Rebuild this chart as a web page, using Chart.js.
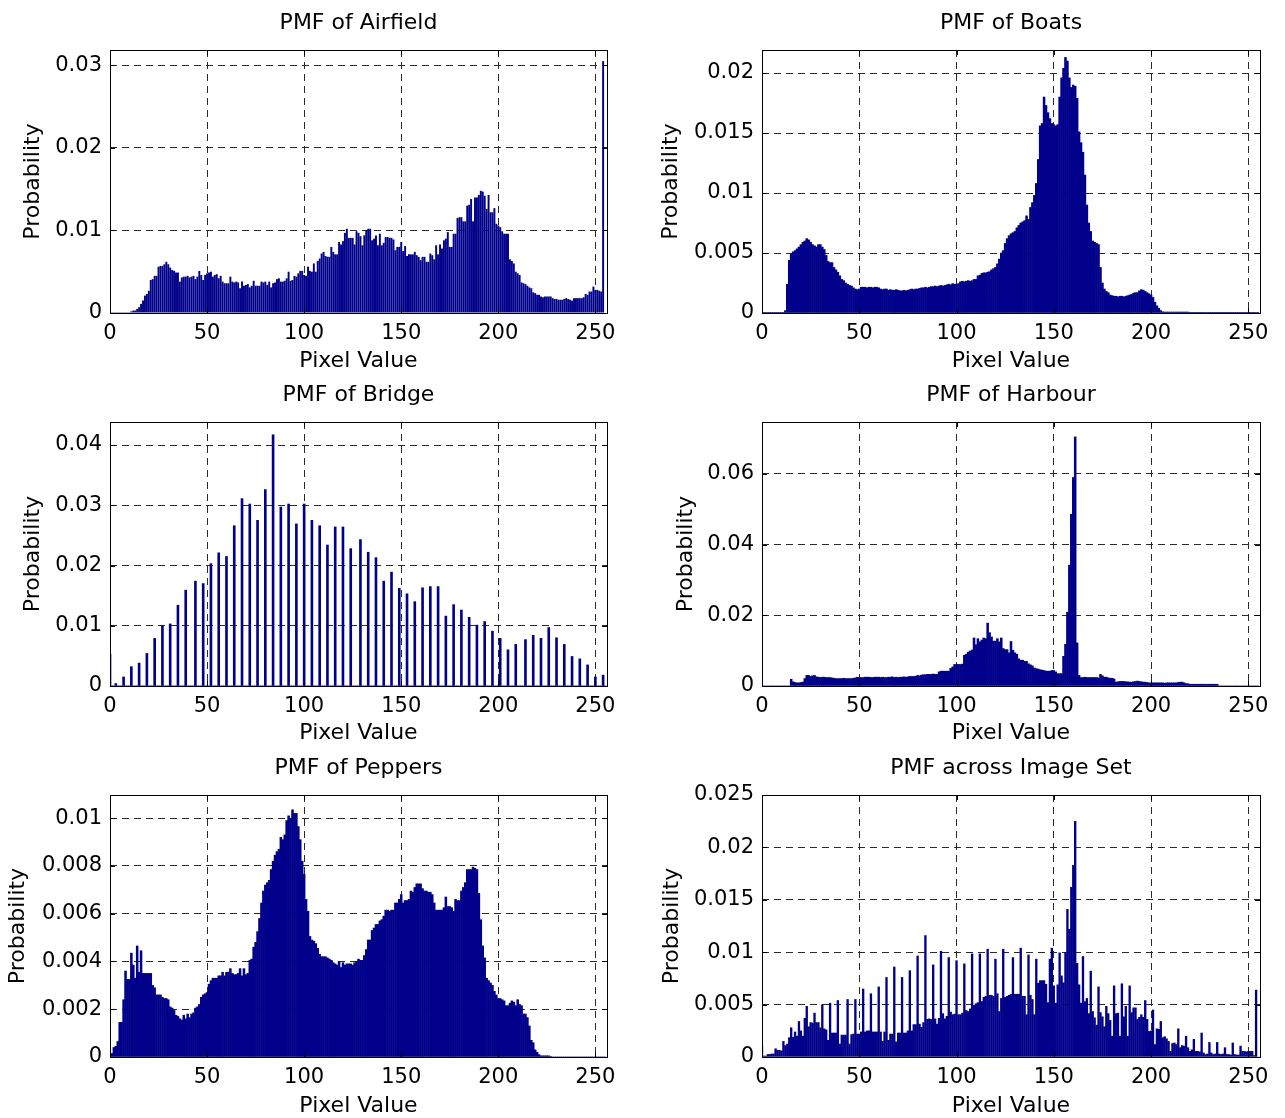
<!DOCTYPE html>
<html><head><meta charset="utf-8">
<script src="https://cdn.jsdelivr.net/npm/chart.js@4.4.1/dist/chart.umd.min.js"></script>
<style>
html,body{margin:0;padding:0;background:#fff;width:1285px;height:1118px;overflow:hidden}
canvas{position:absolute}
</style></head><body>
<canvas id="c0" width="640" height="373" style="left:0;top:0"></canvas>
<canvas id="c1" width="645" height="373" style="left:640px;top:0"></canvas>
<canvas id="c2" width="640" height="373" style="left:0;top:372px"></canvas>
<canvas id="c3" width="645" height="373" style="left:640px;top:372px"></canvas>
<canvas id="c4" width="640" height="373" style="left:0;top:745px"></canvas>
<canvas id="c5" width="645" height="373" style="left:640px;top:745px"></canvas>
<script>
// Pixel values 0..255 (categories)
const pixelValues = Array.from({length: 256}, (_, i) => i);
const xTicks = [0, 50, 100, 150, 200, 250];

// Probabilities in units of 1e-3 (per mille), one entry per pixel value
const airfield = [
0.1,0.1,0.1,0.1,0.1,0.1,0.1,0.1,0.1,0.1,
0.1,0.2,0.3,0.3,0.5,0.7,1.1,1.5,2.1,2.3,
2.7,4.0,4.1,4.5,4.5,5.6,5.7,5.7,5.9,6.2,
5.9,5.5,5.2,5.1,4.9,4.9,3.8,4.3,4.4,4.4,
4.5,4.3,4.4,4.5,4.1,4.4,5.1,4.6,4.0,4.6,
4.8,4.9,5.0,4.4,4.6,4.7,4.2,4.5,3.8,3.6,
3.6,3.6,4.4,3.8,3.7,3.8,3.7,3.0,3.8,3.3,
3.4,3.5,3.1,3.3,3.9,3.3,3.3,3.3,3.8,3.7,
3.8,3.4,3.8,3.1,3.6,3.7,4.1,4.2,3.8,3.8,
3.9,4.2,5.0,3.9,4.0,4.5,4.4,4.8,5.1,5.1,
4.6,4.5,5.6,5.1,5.0,6.0,5.0,6.3,6.6,7.2,
7.4,6.9,6.8,6.8,8.0,7.4,7.1,7.1,8.6,8.3,
8.7,9.7,10.2,9.1,9.1,9.1,8.3,9.9,9.7,9.3,
8.2,9.4,10.0,10.2,10.2,8.8,9.0,9.4,8.2,9.6,
8.2,8.5,9.2,9.2,9.1,9.1,8.9,7.6,8.0,8.0,
8.6,7.5,8.1,6.9,7.1,7.1,7.1,7.4,7.0,6.8,
6.4,6.8,6.8,6.2,6.2,7.2,7.0,6.5,8.2,7.1,
8.3,7.8,8.8,9.0,9.8,8.0,8.0,9.6,9.6,11.5,
11.6,11.6,11.1,11.1,13.0,13.1,13.8,11.1,14.0,14.0,
14.3,14.8,14.7,14.2,12.6,14.3,12.2,12.2,12.7,10.8,
10.6,10.4,9.9,9.6,9.6,9.6,6.5,6.3,6.0,5.0,
4.8,4.6,3.7,3.6,3.5,3.3,3.1,3.0,2.5,2.4,
2.2,2.2,2.0,1.9,2.0,2.0,2.0,2.0,1.8,1.7,
1.7,1.6,1.6,1.6,1.7,1.8,1.7,1.6,1.5,1.8,
1.8,1.8,1.8,1.8,1.9,2.3,2.2,2.6,2.6,3.2,
2.8,2.8,2.7,2.6,30.5,0
];

const boats = [
0.05,0.05,0.05,0.05,0.05,0.05,0.05,0.05,0.05,0.05,
0.05,0.05,0.2,2.4,4.4,4.9,5.1,5.2,5.35,5.5,
5.7,5.9,6.0,6.2,6.1,5.9,5.7,5.6,5.5,5.7,
5.7,5.5,5.3,4.8,4.3,4.2,4.2,3.8,3.6,3.4,
3.1,2.8,2.7,2.5,2.4,2.3,2.25,2.1,2.0,1.95,
2.0,2.15,2.15,2.15,2.1,2.15,2.15,2.1,2.15,2.15,
2.1,2.0,1.95,2.0,2.0,1.9,1.95,1.9,1.9,1.95,
1.9,1.85,1.85,1.9,1.85,1.9,1.95,2.0,1.95,2.0,
2.0,2.05,2.1,2.1,2.15,2.1,2.15,2.2,2.2,2.25,
2.2,2.25,2.3,2.25,2.3,2.35,2.4,2.35,2.45,2.4,
2.4,2.45,2.6,2.65,2.6,2.65,2.7,2.65,2.7,2.8,
2.8,3.1,3.15,3.3,3.35,3.35,3.4,3.45,3.6,3.7,
3.8,4.1,4.5,5.0,5.2,5.8,6.2,6.45,6.6,6.7,
6.8,7.1,7.3,7.5,7.6,7.7,8.1,7.8,8.8,9.2,
9.8,10.8,12.8,15.6,15.8,18.0,17.3,16.7,16.2,15.8,
15.7,15.6,15.7,18.0,19.6,20.4,21.3,21.0,19.6,18.8,
19.0,18.9,17.9,15.1,14.2,13.4,11.5,9.0,7.5,6.8,
6.0,5.9,5.8,5.7,3.8,2.5,2.0,1.8,1.7,1.5,
1.45,1.4,1.4,1.35,1.4,1.4,1.35,1.4,1.45,1.5,
1.55,1.65,1.7,1.7,1.85,1.95,1.9,1.8,1.7,1.6,
1.5,1.3,0.9,0.6,0.4,0.2,0.1,0.08,0.08,0.08,
0.08,0.08,0.08,0.08,0.08,0.08,0.08,0.08,0.08,0.08,
0.03,0.03,0.03,0.03,0.03,0.03,0.03,0.03,0.03,0.03,
0.03,0.03,0.03,0.03,0.03,0.03,0.03,0.03,0.03,0.03,
0.03,0.03,0.03,0.03,0.03,0.03,0.03,0.03,0.03,0.03,
0.03,0.03,0.03,0.03,0.03,0.03
];

const bridge = [
5.3,0,0,0.4,0,0,0,1.5,0,0,
0,3.2,0,0,0,3.8,0,0,0,5.4,
0,0,0,7.9,0,0,0,10.0,0,0,
0,10.3,0,0,0,13.4,0,0,0,15.9,
0,0,0,0,17.4,0,0,0,17.0,0,
0,0,20.3,0,0,0,22.1,0,0,0,
21.5,0,0,0,26.6,0,0,0,31.1,0,
0,0,30.2,0,0,0,27.5,0,0,0,
32.6,0,0,0,41.7,0,0,0,29.7,0,
0,0,30.2,0,0,0,26.9,0,0,0,
30.2,0,0,0,27.5,0,0,0,26.6,0,
0,0,23.4,0,0,0,26.4,0,0,0,
26.4,0,0,0,22.8,0,0,0,0,24.3,
0,0,0,22.2,0,0,0,21.3,0,0,
0,17.4,0,0,0,18.9,0,0,0,16.2,
0,0,0,15.3,0,0,0,14.0,0,0,
0,16.3,0,0,0,16.5,0,0,0,16.5,
0,0,0,11.6,0,0,0,13.5,0,0,
0,12.6,0,0,0,11.4,0,0,0,10.1,
0,0,0,10.7,0,0,0,9.1,0,0,
0,7.9,0,0,0,6.0,0,0,0,6.9,
0,0,0,0,7.7,0,0,0,8.4,0,
0,0,7.9,0,0,0,9.7,0,0,0,
8.0,0,0,0,6.9,0,0,0,4.9,0,
0,0,4.5,0,0,0,3.5,0,0,0,
1.5,0,0,0,1.8,0
];

const harbour = [
0,0,0,0,0,0,0,0,0,0,
0,0,0,0,0,1.9,1.2,1.0,0.9,0.9,
1.0,1.1,2.1,3.0,3.0,2.7,2.9,3.0,2.6,2.5,
2.4,2.5,2.5,2.4,2.4,2.4,2.3,2.2,2.1,2.1,
2.1,2.1,2.2,2.1,2.1,2.1,2.1,2.2,2.3,2.5,
2.4,2.4,2.4,2.5,2.5,2.5,2.4,2.4,2.5,2.5,
2.5,2.4,2.5,2.4,2.4,2.5,2.5,2.6,2.4,2.5,
2.4,2.5,2.5,2.6,2.5,2.6,2.7,2.7,2.7,2.8,
3.0,2.9,3.1,3.2,3.2,3.3,3.3,3.3,3.4,3.3,
3.3,4.0,4.2,4.2,4.2,4.2,4.2,5.0,5.4,6.1,
6.1,6.1,6.1,6.2,8.7,9.0,9.6,9.9,10.2,13.6,
11.7,13.4,12.5,13.0,13.6,13.4,17.8,15.1,13.9,12.7,
12.7,13.4,12.5,13.6,10.6,10.3,10.3,9.4,12.6,10.1,
9.4,9.0,7.7,7.3,7.3,7.0,7.0,6.3,6.0,5.7,
5.1,4.9,4.8,4.6,4.5,4.4,4.2,4.2,4.2,4.4,
4.4,4.0,3.5,3.5,3.5,8.4,11.8,20.9,34.2,48.6,
59.0,70.5,12.2,3.0,2.4,2.4,2.5,2.4,2.4,2.4,
2.4,2.4,2.4,2.3,3.3,2.9,2.5,2.5,2.3,2.2,
2.2,2.0,1.1,1.2,1.3,1.3,1.3,1.2,1.2,1.1,
1.1,1.2,1.3,1.4,1.3,1.2,1.1,1.1,1.0,0.9,
0.85,0.9,0.9,0.9,0.9,0.9,0.9,0.8,0.9,0.9,
0.9,0.9,0.9,0.9,1.0,1.1,1.1,0.9,0.7,0.65,
0.5,0.5,0.5,0.5,0.5,0.5,0.5,0.5,0.5,0.5,
0.5,0.5,0.5,0.5,0.5,0,0,0,0,0,
0,0,0,0,0,0,0,0,0,0,
0,0,0,0,0,0
];

const peppers = [
0.1,0.15,0.4,0.45,0.65,1.45,1.45,2.4,3.6,3.25,
3.25,4.35,3.85,3.3,4.65,3.55,4.45,3.5,3.5,3.5,
3.5,3.5,3.0,2.9,2.6,2.6,2.6,2.5,2.45,2.45,
2.4,2.1,2.05,1.95,1.75,1.7,1.6,1.55,1.75,1.6,
1.8,1.65,1.8,1.85,2.05,2.1,2.2,2.5,2.6,2.65,
2.7,3.05,3.2,3.3,3.3,3.3,3.4,3.4,3.55,3.4,
3.55,3.55,3.7,3.5,3.45,3.45,3.5,3.7,3.4,3.7,
3.45,3.5,4.05,4.1,4.6,4.8,5.25,5.8,6.45,6.95,
7.2,7.3,7.4,7.85,8.2,8.45,8.6,8.7,9.2,9.1,
9.3,9.9,10.1,10.0,10.35,10.2,10.2,9.65,9.1,8.2,
7.65,6.6,6.1,5.05,4.9,4.85,4.75,4.55,4.3,4.2,
4.2,4.2,4.15,4.1,4.05,3.95,3.9,3.85,4.0,3.75,
3.95,3.85,3.9,3.9,3.9,3.85,3.95,4.0,4.1,4.05,
4.05,4.25,4.5,4.9,4.9,5.3,5.4,5.55,5.55,5.7,
5.75,5.9,6.15,6.15,6.1,6.15,6.15,6.45,6.45,6.6,
6.8,6.45,6.55,6.55,6.6,6.95,6.9,7.1,7.25,7.25,
7.25,7.05,6.95,6.95,6.9,6.9,6.8,6.45,6.15,6.15,
6.15,6.15,6.25,6.7,6.3,6.3,6.25,6.1,6.6,6.55,
6.55,6.95,7.1,7.3,7.85,7.85,7.85,7.95,7.9,7.85,
6.85,5.75,4.65,4.15,3.3,3.2,3.1,3.0,2.75,2.6,
2.45,2.45,2.4,2.35,2.15,2.15,2.25,2.35,2.3,2.15,
2.4,2.2,2.15,1.8,1.8,1.65,1.3,0.7,0.6,0.3,
0.2,0.1,0.05,0.05,0.05,0.05,0.05,0.02,0,0,
0,0,0,0,0,0,0,0,0,0,
0,0,0,0,0,0,0,0,0,0,
0,0,0,0,0,0
];

const acrossSet = [
1.05,0.1,0.1,0.25,0.25,0.3,0.3,0.8,0.65,0.65,
0.6,1.5,1.1,1.25,1.85,2.8,1.9,2.4,2.0,3.4,
2.5,2.0,3.7,4.85,2.9,3.3,3.25,4.2,3.3,3.3,
2.8,5.0,2.7,2.6,1.6,5.15,2.3,2.3,2.3,5.4,
1.25,2.1,2.1,2.1,5.5,1.25,2.15,2.2,5.5,2.2,
2.2,2.4,6.5,2.4,2.5,2.5,6.05,2.4,2.4,2.4,
6.7,2.4,1.5,2.4,7.6,1.6,2.2,2.2,8.6,1.45,
2.3,2.3,7.6,2.3,2.3,2.5,8.25,2.5,3.1,3.1,
9.65,3.15,2.85,3.3,11.6,3.6,3.65,3.6,8.8,3.65,
3.15,3.7,10.1,4.15,3.65,3.9,9.5,4.3,4.05,4.1,
9.2,4.05,4.05,4.2,8.9,4.45,4.35,4.6,9.85,4.95,
5.1,5.2,9.85,5.3,5.7,5.8,10.3,5.9,5.9,5.8,
9.35,6.05,4.35,5.6,10.3,5.7,5.8,5.9,6.0,9.5,
6.0,6.0,6.0,10.4,5.8,5.8,4.05,9.75,5.9,5.5,
4.05,9.35,7.05,7.3,7.3,7.3,6.95,5.2,9.35,10.4,
6.8,5.15,6.9,9.95,7.75,7.1,10.0,14.1,12.2,16.2,
18.3,22.5,8.95,6.9,5.15,9.6,5.3,5.6,4.15,8.2,
4.35,3.75,3.05,6.7,4.25,3.85,2.9,4.85,4.15,3.5,
2.0,6.8,4.15,4.2,2.0,7.0,3.85,4.85,2.0,6.8,
4.25,4.7,4.7,3.6,3.8,4.05,3.8,5.4,3.6,2.45,
2.5,4.5,1.2,2.7,2.65,3.4,1.85,1.95,1.75,1.5,
0.55,1.3,1.35,1.2,2.7,0.9,1.1,1.05,2.0,0.9,
0.55,0.7,1.7,0.55,0.55,0.5,2.3,0.4,0.25,0.3,
1.4,0.4,0.25,0.3,1.4,0.3,0.25,0.3,0.9,0.25,
0.25,0.2,1.35,0.25,0.2,0.2,1.05,0.55,0.55,0.5,
0.55,0.55,0.55,0.15,6.4,0
];

// Y tick values for each panel
const yTicksAirfield = [0, 0.01, 0.02, 0.03];
const yTicksBoats = [0, 0.005, 0.01, 0.015, 0.02];
const yTicksBridge = [0, 0.01, 0.02, 0.03, 0.04];
const yTicksHarbour = [0, 0.02, 0.04, 0.06];
const yTicksPeppers = [0, 0.002, 0.004, 0.006, 0.008, 0.01];
const yTicksAcross = [0, 0.005, 0.01, 0.015, 0.02, 0.025];

const titles = ['PMF of Airfield', 'PMF of Boats', 'PMF of Bridge', 'PMF of Harbour', 'PMF of Peppers', 'PMF across Image Set'];

const BAR = 'rgb(0,0,139)';
const GRID = '#2a2a2a';
const FAMILY = "'DejaVu Sans', 'Liberation Sans', sans-serif";
const tickFont = {family: FAMILY, size: 21};
const labelFont = {family: FAMILY, size: 22};

const framePlugin = {
  id: 'frame',
  afterDatasetsDraw(chart, args, opts) {
    const {ctx, chartArea: {left, top, right, bottom}, scales: {x, y}} = chart;
    ctx.save();
    ctx.strokeStyle = '#000';
    ctx.lineWidth = 1;
    ctx.setLineDash([]);
    ctx.beginPath();
    x.ticks.forEach(t => {
      const px = Math.round(x.getPixelForValue(t.value)) + 0.5;
      ctx.moveTo(px, bottom); ctx.lineTo(px, bottom - 5);
      ctx.moveTo(px, top); ctx.lineTo(px, top + 5);
    });
    y.ticks.forEach(t => {
      const py = Math.round(y.getPixelForValue(t.value)) + 0.5;
      ctx.moveTo(left, py); ctx.lineTo(left + 5, py);
      ctx.moveTo(right, py); ctx.lineTo(right - 5, py);
    });
    ctx.stroke();
    ctx.strokeRect(Math.round(left) + 0.5, Math.round(top) + 0.5, Math.round(right - left), Math.round(bottom - top));
    ctx.fillStyle = '#000';
    ctx.font = '22px ' + FAMILY;
    ctx.textAlign = 'center';
    ctx.textBaseline = 'middle';
    ctx.fillText(opts.text, (left + right) / 2, 23);
    ctx.restore();
  }
};

function makeChart(id, cfg) {
  const points = pixelValues.map((p, i) => ({x: p, y: cfg.values[i] / 1000}));
  return new Chart(document.getElementById(id), {
    type: 'bar',
    data: {datasets: [{data: points, backgroundColor: BAR, borderWidth: 0,
      barPercentage: cfg.barPct, categoryPercentage: 1, inflateAmount: cfg.inflate}]},
    options: {
      responsive: false, animation: false, devicePixelRatio: 1,
      layout: {padding: {top: 50, right: cfg.padRight, bottom: 0, left: 0}},
      plugins: {legend: {display: false}, tooltip: {enabled: false}, title: {display: false},
        frame: {text: cfg.title}},
      scales: {
        x: {
          type: 'linear', min: 0, max: 256, offset: false,
          afterBuildTicks: s => { s.ticks = xTicks.map(v => ({value: v})); },
          afterFit: s => { s.height = 373 - cfg.bottom; },
          ticks: {font: tickFont, color: '#000', padding: 8, maxRotation: 0, autoSkip: false,
            callback: v => String(v)},
          grid: {color: GRID, drawTicks: false, lineWidth: 1, offset: false},
          border: {display: false, dash: [7, 5]},
          title: {display: true, text: 'Pixel Value', font: labelFont, color: '#000',
            padding: {top: 0, bottom: -1}}
        },
        y: {
          min: 0, max: cfg.ymax,
          afterBuildTicks: s => { s.ticks = cfg.yTicks.map(v => ({value: v})); },
          afterFit: s => { s.width = cfg.left; },
          ticks: {font: tickFont, color: '#000', padding: 8, callback: v => String(v)},
          grid: {color: GRID, drawTicks: false, lineWidth: 1},
          border: {display: false, dash: [7, 5]},
          title: {display: true, text: 'Probability', font: labelFont, color: '#000',
            padding: {top: cfg.ylabPad, bottom: 0}}
        }
      }
    },
    plugins: [framePlugin]
  });
}

makeChart('c0', {values: airfield, title: titles[0], yTicks: yTicksAirfield, ymax: 0.03185,
  left: 110, padRight: 33, bottom: 313, ylabPad: 20, barPct: 1.0, inflate: 0});
makeChart('c1', {values: boats, title: titles[1], yTicks: yTicksBoats, ymax: 0.02192,
  left: 122, padRight: 25, bottom: 313, ylabPad: 18, barPct: 1.0, inflate: 0.3});
makeChart('c2', {values: bridge, title: titles[2], yTicks: yTicksBridge, ymax: 0.04382,
  left: 110, padRight: 33, bottom: 314, ylabPad: 20, barPct: 1.0, inflate: 0.35});
makeChart('c3', {values: harbour, title: titles[3], yTicks: yTicksHarbour, ymax: 0.0747,
  left: 122, padRight: 25, bottom: 314, ylabPad: 33, barPct: 1.0, inflate: 0.3});
makeChart('c4', {values: peppers, title: titles[4], yTicks: yTicksPeppers, ymax: 0.01097,
  left: 110, padRight: 33, bottom: 312, ylabPad: 5, barPct: 1.0, inflate: 0.3});
makeChart('c5', {values: acrossSet, title: titles[5], yTicks: yTicksAcross, ymax: 0.025,
  left: 122, padRight: 25, bottom: 312, ylabPad: 19, barPct: 1.0, inflate: 0.2});
</script>
</body></html>
